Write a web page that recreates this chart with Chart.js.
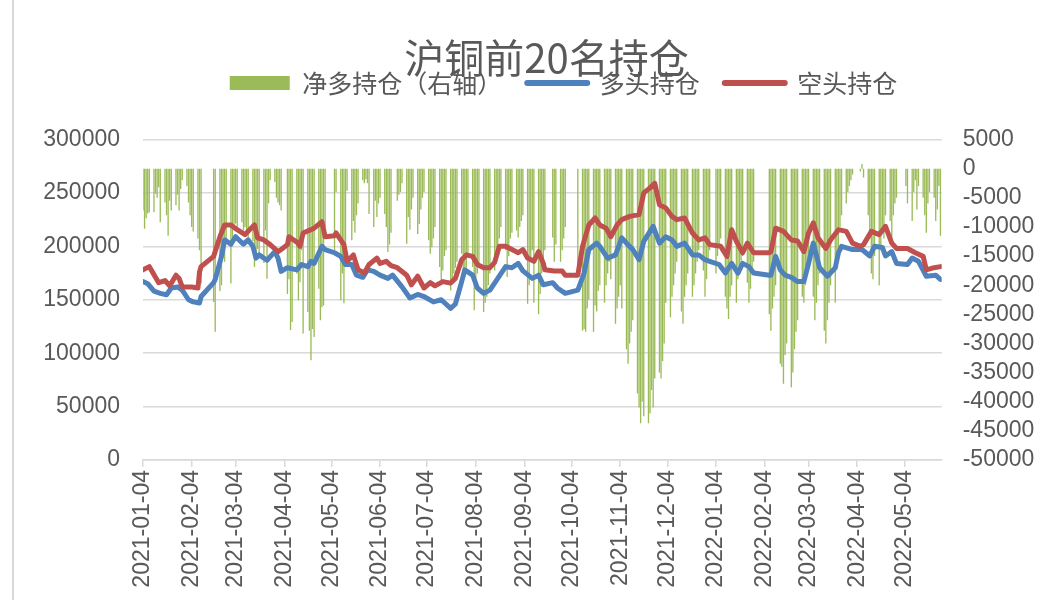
<!DOCTYPE html>
<html><head><meta charset="utf-8">
<script src="https://cdn.jsdelivr.net/npm/chart.js@4.4.1/dist/chart.umd.min.js"></script>
<style>
html,body{margin:0;padding:0;background:#fff;}
#wrap{position:relative;width:1053px;height:600px;overflow:hidden;}
#frame{position:absolute;left:12px;top:0;width:2px;height:600px;background:#d9d9d9;}
canvas{position:absolute;left:0;top:0;}
</style></head><body>
<div id="wrap"><div id="frame"></div><canvas id="c" width="1053" height="600"></canvas></div>
<script>
// x values are days since 2021-01-04
const tickLabels = ['2021-01-04','2021-02-04','2021-03-04','2021-04-04','2021-05-04','2021-06-04','2021-07-04','2021-08-04','2021-09-04','2021-10-04','2021-11-04','2021-12-04','2022-01-04','2022-02-04','2022-03-04','2022-04-04','2022-05-04'];

// 空头持仓 (short, left axis)
const shortDays = [0,4,10,14,17,21,23,25,31,35,
 36,37,45,49,52,56,60,65,70,71,
 73,77,81,86,88,92,93,98,100,102,
 107,109,114,116,122,123,128,130,134,137,
 141,144,149,151,155,158,162,168,170,171,
 175,179,183,186,191,196,199,203,206,210,
 213,217,221,224,227,231,235,239,242,245,
 249,252,255,256,262,267,269,277,280,284,
 288,291,295,298,302,305,310,316,319,323,
 326,329,333,337,340,345,350,354,358,361,
 368,372,375,378,382,385,389,399,400,403,
 408,413,417,421,424,427,430,435,438,443,
 448,452,457,459,464,469,473,477,480,487,
 492,497,499,504,508];
const shortVals = [178000,181000,166000,168000,163000,173000,170000,162000,162000,161000,
 176000,181000,190600,209000,220000,220000,215600,211000,218700,220000,
 208000,206000,201600,195000,197000,201600,209000,204000,200000,212500,
 215600,217000,223000,209000,210000,212500,201600,186000,192000,178000,
 175000,183000,189000,184000,186000,182000,180000,173000,167000,164000,
 172000,161000,166000,163000,167000,165600,170000,187500,192000,190600,
 183000,180000,180000,185000,200000,200000,197000,194000,197000,189000,
 186000,195000,184000,178000,177000,177000,173000,173000,200000,220000,
 226500,220000,217000,209000,220000,225000,228000,229700,250000,254700,
 259000,239000,236000,228000,225000,226500,212500,206000,208000,201600,
 200000,190600,215600,204700,194000,203000,194000,194000,195000,217000,
 214000,206000,205000,195000,212500,222000,208000,198000,206000,215600,
 214000,203000,200000,201600,214000,211000,218700,203000,198000,198000,
 194000,190600,178000,180000,181000];

// 多头持仓 (long, left axis)
const longDays = [0,3,7,11,15,18,22,25,29,32,
 36,37,45,46,50,52,56,59,64,67,
 70,72,74,79,84,86,88,92,98,101,
 105,107,109,114,116,122,126,129,133,136,
 140,143,147,151,156,159,165,170,175,179,
 185,190,196,199,203,205,210,213,217,221,
 226,231,235,239,242,248,252,255,261,264,
 269,277,281,284,289,291,296,301,305,308,
 312,316,319,325,329,333,337,340,345,350,
 354,358,361,367,371,375,379,382,386,389,
 399,400,403,406,409,413,417,421,424,427,
 431,436,441,443,445,452,458,463,466,471,
 473,477,480,487,490,494,499,505,508];
const longVals = [167000,165000,158000,156000,154700,161000,162000,159000,150000,148000,
 147000,153000,166000,169000,190600,206000,202000,209000,202000,206000,
 200000,189000,192000,187000,195000,189000,176600,180000,178000,183000,
 181000,186000,184000,200000,197000,194000,190600,183000,183000,173000,
 171000,178000,176600,173000,170000,173000,162000,151600,155000,153000,
 148000,150000,142000,146000,167000,178000,173000,161000,156000,159000,
 170000,181000,180000,184000,177000,170000,173000,164000,166000,161000,
 156000,159000,175000,197000,203000,200000,189000,192000,208000,203000,
 197000,187500,204700,218700,203000,209000,206000,200000,203000,192000,
 192000,187500,186000,183000,175000,184000,175000,184000,181000,175000,
 173000,173000,190600,178000,173000,171000,167000,167000,184000,203000,
 180000,172000,180000,194000,200000,197000,197000,191000,200000,199000,
 191000,195000,184000,183000,189000,186000,172000,173000,169000];

// 净多持仓 (right axis): one row per week starting 2021-01-04, Mon..Fri, null = holiday
const netWeeks = [
 [-7200,-10300,-8500,-7700,-7500],
 [-7500,-4300,-5000,-3200,-9200],
 [-5800,-8000,-11500,-5500,-7200],
 [-6300,-4500,-7200,-3500,-2000],
 [-3000,-5800,-8000,-10000,-10800],
 [-12000,-14000,-19700,null,null],
 [null,null,null,-22900,-28000],
 [-21000,-20000,-14000,-16000,-12800],
 [-19700,-13300,-10000,-9400,-10600],
 [-9200,-10600,-10000,-11200,-12400],
 [-12400,-16900,-15200,-13800,-14500],
 [-16200,-10600,-18900,-6000,-2000],
 [-2300,-5000,-5800,-6300,-7200],
 [null,-21500,-19000,-27700,-26300],
 [-18000,-22600,-19500,-14000,-28300],
 [-24600,-27800,-32900,-27500,-28900],
 [-20600,-26000,-23800,-23500,-10000],
 [null,null,null,-14000,-4000],
 [-22600,-18000,-23100,-15000,-3800],
 [-12300,-9000,-11000,-8000,-6000],
 [-2000,-2500,-1800,-2500,-7800],
 [-10000,-5500,-8300,-6000,-5000],
 [-7800,-10000,-14300,-13000,-11000],
 [null,-5500,-4500,-4000,-2500],
 [-12900,-8300,-10500,-7000,-5000],
 [-11200,-9500,-7000,-5000,-4000],
 [-12300,-14600,-13500,-12000,-10000],
 [-16900,-19200,-17500,-15000,-14000],
 [-20900,-19000,-18000,-17000,-16000],
 [-14600,-19200,-18500,-17000,-15000],
 [-16900,-24300,-20000,-18000,-17000],
 [-24600,-23000,-22000,-20000,-18000],
 [-17500,-16000,-15000,-12000,-10000],
 [-14000,-18600,-15000,-12000,-11000],
 [-10600,-11800,-10000,-9000,-8000],
 [-23200,-20000,-16000,-14000,-23000],
 [-25000,-21500,-18000,-16000,-14000],
 [null,null,-11800,-16000,-13000],
 [-16000,-14000,-12000,-10000,null],
 [null,null,null,null,-18000],
 [-27800,-27500,-28000,-24000,-22500],
 [-28000,-23500,-24500,-21000,-20000],
 [-23000,-20000,-18000,-16000,-19000],
 [-26600,-24000,-22000,-20000,-24000],
 [-31000,-33500,-30000,-28000,-26000],
 [-38600,-41000,-43700,-40000,-42500],
 [-43700,-42000,-38000,-41000,-36000],
 [-35000,-36000,-33000,-30000,-23000],
 [-25500,-22000,-20000,-18000,-16000],
 [-24500,-26600,-22000,-20000,-18000],
 [-22000,-20000,-18000,-16000,-14000],
 [-17500,-22000,-19000,-16000,-14000],
 [null,-18000,-15000,-13000,-12000],
 [-22000,-24000,-25800,-22000,-20000],
 [-23000,-19000,-18000,-16000,-15000],
 [-19600,-23000,-20600,-18000,-16000],
 [null,null,null,null,null],
 [-25000,-27800,-24000,-22000,-20000],
 [-33500,-34000,-36900,-32000,-30000],
 [-37500,-35000,-31000,-28000,-26000],
 [-22000,-23000,-20000,-18000,-16000],
 [-22000,-26000,-23000,-20000,-18000],
 [-27800,-30000,-26000,-23000,-20000],
 [-23000,-16000,-14000,-10000,-8000],
 [-6000,-4000,-3000,-2000,-1000],
 [null,null,-500,800,-1500],
 [-8000,-12000,-18000,-19000,-15000],
 [-20000,-14000,-10000,-12000,-8000],
 [-9000,-12000,-8000,-6000,-5000],
 [null,null,null,-3000,-6000],
 [-9000,-4000,-2000,-7000,-3000],
 [-5000,-8000,-11000,-6000,-4000],
 [-5000,-9000,-7000,-3000,-11500]
];

const DAY0 = Date.UTC(2021,0,4);
function dayOf(s){ const p = s.split('-').map(Number); return Math.round((Date.UTC(p[0],p[1]-1,p[2]) - DAY0)/86400000); }
const tickDays = tickLabels.map(dayOf);
const tickMap = {}; tickDays.forEach((d,i)=>{ tickMap[d] = tickLabels[i]; });

const netPts = [];
netWeeks.forEach((w,i)=>w.forEach((v,j)=>{ if(v!==null) netPts.push({x:i*7+j, y:v}); }));
const longPts = longDays.map((d,i)=>({x:d, y:longVals[i]}));
const shortPts = shortDays.map((d,i)=>({x:d, y:shortVals[i]}));

const CJK = '"Noto Sans CJK SC", "Noto Sans", sans-serif';
const NUM = '"Liberation Sans", Arial, sans-serif';
const GREY = '#595959';

const legendSpace = { id:'legendSpace', beforeLayout(chart){ const lg = chart.legend; if (lg && !lg._patched){ const f = lg.fit; lg.fit = function(){ f.call(this); this.height += 34; }; lg._patched = true; } } };
const shiftBoxes = { id:'shiftBoxes', afterLayout(chart){ const lg = chart.legend, tb = chart.titleBlock; if (lg){ lg.left += 37; lg.right += 37; } if (tb){ tb.left += 20; tb.right += 20; } } };

new Chart(document.getElementById('c'), {
  type: 'bar',
  data: { datasets: [
    { type:'bar', label:'净多持仓（右轴）', data:netPts, yAxisID:'y1', backgroundColor:'#9BBB59', borderWidth:0, barPercentage:0.85, categoryPercentage:1, order:3 },
    { type:'line', label:'多头持仓', data:longPts, yAxisID:'y', borderColor:'#4F81BD', backgroundColor:'#4F81BD', borderWidth:5, pointRadius:0, tension:0, borderJoinStyle:'round', borderCapStyle:'round', order:2 },
    { type:'line', label:'空头持仓', data:shortPts, yAxisID:'y', borderColor:'#C0504D', backgroundColor:'#C0504D', borderWidth:5, pointRadius:0, tension:0, borderJoinStyle:'round', borderCapStyle:'round', order:1 }
  ]},
  options: {
    responsive:false, animation:false, devicePixelRatio:1,
    layout:{ padding:0 },
    plugins:{
      title:{ display:true, text:'沪铜前20名持仓', color:GREY, font:{family:CJK, size:40, weight:'normal'}, padding:{top:34, bottom:-36.5} },
      legend:{ display:true, labels:{ color:GREY, font:{family:CJK, size:25}, usePointStyle:true, pointStyleWidth:60, boxHeight:14, padding:25,
        generateLabels:(chart)=>chart.data.datasets.map((ds,i)=>({ text:ds.label, datasetIndex:i, fillStyle:ds.backgroundColor, strokeStyle:ds.type==='line'?ds.borderColor:ds.backgroundColor, lineWidth:ds.type==='line'?6:0, lineCap:'round', pointStyle:ds.type==='line'?'line':'rect', hidden:false, fontColor:GREY })) } },
      tooltip:{ enabled:false }
    },
    scales:{
      x:{ type:'linear', min:0, max:508.8, offset:false,
        grid:{ drawOnChartArea:false, drawTicks:true, tickLength:7, color:'#d9d9d9', lineWidth:1.5, offset:false },
        border:{ display:true, color:'#d9d9d9', width:1.5 },
        ticks:{ autoSkip:false, maxRotation:90, minRotation:90, padding:3, color:GREY, font:{family:NUM, size:23}, callback:(v)=>tickMap[v]||'' },
        afterBuildTicks:(s)=>{ s.ticks = tickDays.map(v=>({value:v})); },
        afterFit:(s)=>{ s.height = 140; } },
      y:{ position:'left', min:0, max:300000,
        ticks:{ stepSize:50000, autoSkip:false, padding:23, color:GREY, font:{family:NUM, size:23}, callback:(v)=>String(v) },
        grid:{ color:'#d9d9d9', lineWidth:1.5, drawTicks:false }, border:{ display:false },
        afterFit:(s)=>{ s.width = 143; } },
      y1:{ position:'right', min:-50000, max:5000,
        ticks:{ stepSize:5000, autoSkip:false, padding:21, color:GREY, font:{family:NUM, size:23}, callback:(v)=>String(v) },
        grid:{ display:false, drawTicks:false }, border:{ display:false },
        afterFit:(s)=>{ s.width = 111.3; } }
    }
  },
  plugins:[legendSpace, shiftBoxes]
});
</script></body></html>
